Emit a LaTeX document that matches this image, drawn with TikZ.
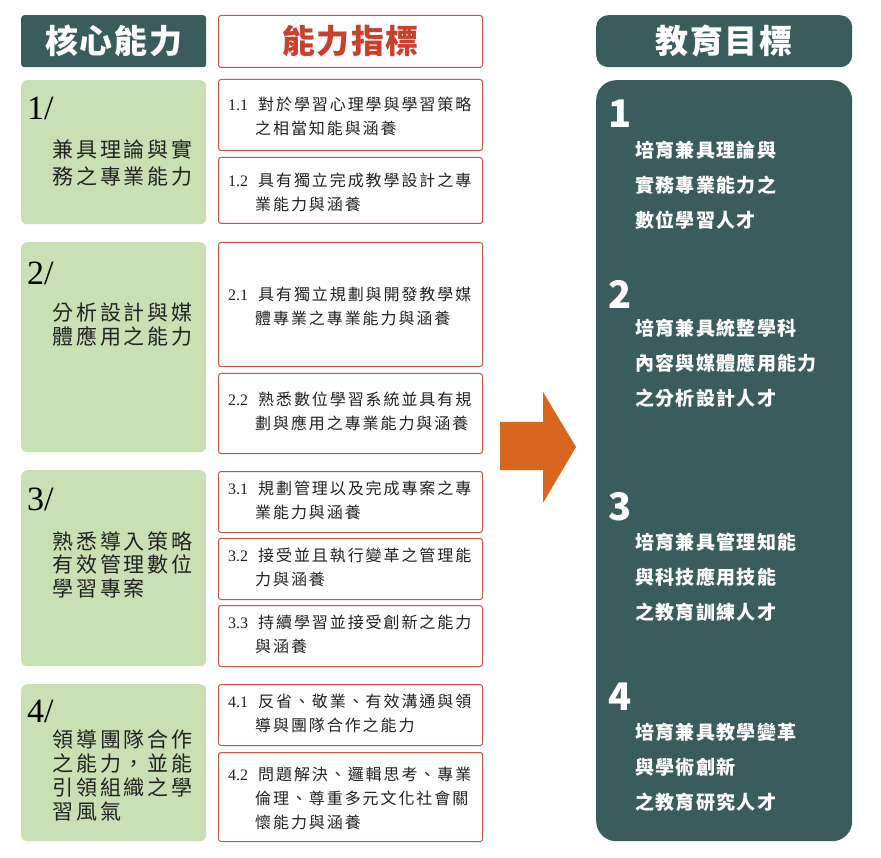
\documentclass[tikz,border=0pt]{standalone}
\usepackage{fontspec}
\setmainfont{Liberation Serif}
\newfontfamily\hdrfont[LetterSpace=5]{Noto Sans CJK TC}
\newfontfamily\gfont[LetterSpace=14]{Noto Sans CJK TC}
\newfontfamily\rfont[LetterSpace=12]{Noto Sans CJK TC}
\newfontfamily\tfont[LetterSpace=7]{Noto Sans CJK TC}
\newfontfamily\digfont{Noto Sans CJK TC}
\definecolor{tealc}{HTML}{3A5C5C}
\definecolor{greenf}{HTML}{C8E0B4}
\definecolor{redb}{HTML}{C4574A}
\definecolor{redt}{HTML}{C8412C}
\definecolor{orangea}{HTML}{D9661F}
\definecolor{darkt}{HTML}{222222}
\tikzset{
  px/.style={x=1pt,y=-1pt},
  tealbox/.style={fill=tealc,draw=none,rounded corners=3pt,anchor=north west,inner sep=0pt},
  redbox/.style={draw=redb,line width=1pt,fill=white,rounded corners=2.5pt,anchor=north west,inner sep=0pt},
  greenbox/.style={fill=greenf,draw=none,rounded corners=6pt,anchor=north west,inner sep=0pt},
  hdrtext/.style={font=\hdrfont\bfseries\fontsize{33}{33}\selectfont,inner sep=0pt},
  rtext/.style={anchor=west,align=left,inner sep=0pt,text=darkt,font=\rfont\fontsize{16}{24}\selectfont},
  gnum/.style={anchor=base west,inner sep=0pt,text=black,font=\rmfamily\fontsize{34}{34}\selectfont},
  gtext/.style={anchor=west,align=left,inner sep=0pt,text=darkt},
  tnum/.style={anchor=base west,inner sep=0pt,text=white,font=\digfont\bfseries\fontsize{38}{38}\selectfont},
  ttext/.style={anchor=west,align=left,inner sep=0pt,text=white,font=\tfont\bfseries\fontsize{19}{35}\selectfont},
}
\newcommand{\nb}[1]{\makebox[30pt][l]{\rmfamily\fontsize{16}{24}\selectfont #1}}
\newcommand{\ind}{\hspace*{27pt}}
\begin{document}
\begin{tikzpicture}[px]
\useasboundingbox (0,0) rectangle (881,858);
\fill[white] (0,0) rectangle (881,858);
% headers
\node[tealbox,minimum width=185pt,minimum height=52pt] (h1) at (21,15) {};
\node[redbox,minimum width=264pt,minimum height=52pt] (h2) at (218,15) {};
\node[tealbox,rounded corners=12pt,minimum width=256pt,minimum height=52pt] (h3) at (596,15) {};
\node[hdrtext,text=white] (h1t) at (h1.center) {核心能力};
\node[hdrtext,text=redt] (h2t) at (h2.center) {能力指標};
\node[hdrtext,text=white] (h3t) at (h3.center) {教育目標};
% green boxes
\node[greenbox,minimum width=185pt,minimum height=144pt] (g1) at (21,80) {};
\node[greenbox,minimum width=185pt,minimum height=210pt] (g2) at (21,242) {};
\node[greenbox,minimum width=185pt,minimum height=196pt] (g3) at (21,470) {};
\node[greenbox,minimum width=185pt,minimum height=157pt] (g4) at (21,684) {};
\node[gnum] (g1n) at (27,120) {1/};
\node[gnum] (g2n) at (27,285) {2/};
\node[gnum] (g3n) at (27,510) {3/};
\node[gnum] (g4n) at (27,722) {4/};
\node[gtext,font=\gfont\fontsize{21}{27}\selectfont] (g1t) at (52,162.5) {兼具理論與實\\務之專業能力};
\node[gtext,font=\gfont\fontsize{21}{24}\selectfont] (g2t) at (52,325) {分析設計與媒\\體應用之能力};
\node[gtext,font=\gfont\fontsize{21}{23.5}\selectfont] (g3t) at (52,564.5) {熟悉導入策略\\有效管理數位\\學習專案};
\node[gtext,font=\gfont\fontsize{21}{24.3}\selectfont] (g4t) at (52,775.5) {領導團隊合作\\之能力，並能\\引領組織之學\\習風氣};
% red boxes
\node[redbox,minimum width=264pt,minimum height=71pt] (r11) at (218,79) {};
\node[redbox,minimum width=264pt,minimum height=66pt] (r12) at (218,157) {};
\node[redbox,minimum width=264pt,minimum height=124pt] (r21) at (218,242) {};
\node[redbox,minimum width=264pt,minimum height=80pt] (r22) at (218,373) {};
\node[redbox,minimum width=264pt,minimum height=61pt] (r31) at (218,471) {};
\node[redbox,minimum width=264pt,minimum height=61pt] (r32) at (218,538) {};
\node[redbox,minimum width=264pt,minimum height=61pt] (r33) at (218,605) {};
\node[redbox,minimum width=264pt,minimum height=61pt] (r41) at (218,684) {};
\node[redbox,minimum width=264pt,minimum height=89pt] (r42) at (218,752) {};
\node[rtext] (t11) at (228,116) {\nb{1.1}對於學習心理學與學習策略\\\ind 之相當知能與涵養};
\node[rtext] (t12) at (228,192) {\nb{1.2}具有獨立完成教學設計之專\\\ind 業能力與涵養};
\node[rtext] (t21) at (228,306) {\nb{2.1}具有獨立規劃與開發教學媒\\\ind 體專業之專業能力與涵養};
\node[rtext] (t22) at (228,411.5) {\nb{2.2}熟悉數位學習系統並具有規\\\ind 劃與應用之專業能力與涵養};
\node[rtext] (t31) at (228,500) {\nb{3.1}規劃管理以及完成專案之專\\\ind 業能力與涵養};
\node[rtext] (t32) at (228,567) {\nb{3.2}接受並且執行變革之管理能\\\ind 力與涵養};
\node[rtext] (t33) at (228,634) {\nb{3.3}持續學習並接受創新之能力\\\ind 與涵養};
\node[rtext] (t41) at (228,713) {\nb{4.1}反省、敬業、有效溝通與領\\\ind 導與團隊合作之能力};
\node[rtext] (t42) at (228,798) {\nb{4.2}問題解決、邏輯思考、專業\\\ind 倫理、尊重多元文化社會關\\\ind 懷能力與涵養};
% arrow
\fill[orangea] (500,422) -- (543,422) -- (543,392) -- (576,447) -- (543,503) -- (543,470) -- (500,470) -- cycle;
% big teal box
\node[tealbox,rounded corners=20pt,minimum width=256pt,minimum height=761pt] (goal) at (596,80) {};
\node[tnum] (n1) at (608,128) {1};
\node[tnum] (n2) at (608,309) {2};
\node[tnum] (n3) at (608,520) {3};
\node[tnum] (n4) at (608,710) {4};
\node[ttext] (o1) at (635,185) {培育兼具理論與\\實務專業能力之\\數位學習人才};
\node[ttext] (o2) at (635,363) {培育兼具統整學科\\內容與媒體應用能力\\之分析設計人才};
\node[ttext] (o3) at (635,577) {培育兼具管理知能\\與科技應用技能\\之教育訓練人才};
\node[ttext] (o4) at (635,767) {培育兼具教學變革\\與學術創新\\之教育研究人才};
\end{tikzpicture}
\end{document}
